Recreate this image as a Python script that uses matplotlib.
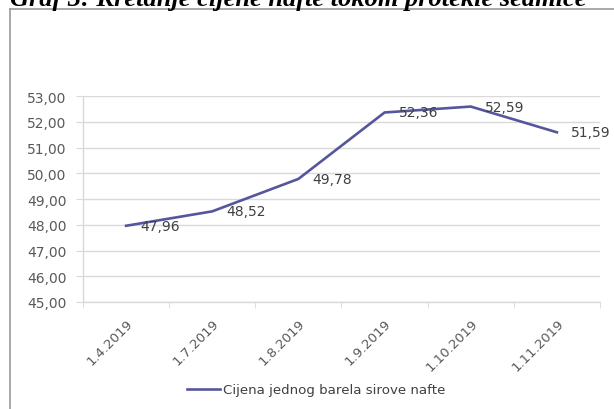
import matplotlib
matplotlib.use("Agg")
import matplotlib.pyplot as plt
from matplotlib.lines import Line2D

categories = ["1.4.2019", "1.7.2019", "1.8.2019", "1.9.2019", "1.10.2019", "1.11.2019"]
values = [47.96, 48.52, 49.78, 52.36, 52.59, 51.59]
value_labels = ["47,96", "48,52", "49,78", "52,36", "52,59", "51,59"]
y_ticks = [45, 46, 47, 48, 49, 50, 51, 52, 53]
y_tick_labels = ["45,00", "46,00", "47,00", "48,00", "49,00", "50,00", "51,00", "52,00", "53,00"]
series_name = "Cijena jednog barela sirove nafte"
title = "Graf 3: Kretanje cijene nafte tokom protekle sedmice"

W, H = 614, 410
fig = plt.figure(figsize=(W / 100, H / 100), dpi=100)
fig.patch.set_facecolor("white")

ax = fig.add_axes([83 / W, 1 - 303 / H, (600 - 83) / W, (303 - 97) / H])
x = list(range(len(categories)))
line_color = "#56569C"
ax.plot(x, values, color=line_color, lw=1.9, solid_joinstyle="miter")

ax.set_xlim(-0.5, len(categories) - 0.5)
ax.set_ylim(45, 53)
ax.set_yticks(y_ticks)
ax.set_yticklabels(y_tick_labels)
ax.grid(axis="y", color="#D9D9D9", lw=1)
ax.set_axisbelow(True)

for s in ["top", "right"]:
    ax.spines[s].set_visible(False)
for s in ["left", "bottom"]:
    ax.spines[s].set_color("#D9D9D9")
    ax.spines[s].set_linewidth(1)

ax.tick_params(axis="y", length=5, color="#D9D9D9", labelsize=10, labelcolor="#595959", pad=7)
ax.set_xticks(x)
ax.set_xticklabels(categories, rotation=45, ha="right", rotation_mode="anchor",
                   fontsize=9.5, color="#595959")
ax.tick_params(axis="x", which="major", length=0, pad=10)
ax.set_xticks([i - 0.5 for i in range(len(categories) + 1)], minor=True)
ax.tick_params(axis="x", which="minor", length=4, color="#D9D9D9")

for xi, v, lab in zip(x, values, value_labels):
    ax.annotate(lab, (xi, v), xytext=(14, 0), textcoords="offset pixels",
                ha="left", va="center", fontsize=10, color="#404040")

handle = Line2D([0], [0], color=line_color, lw=1.9)
fig.legend([handle], [series_name], loc="center",
           bbox_to_anchor=(316 / W, 1 - 391 / H), frameon=False,
           fontsize=9.6, handlelength=2.5, handletextpad=0.2, labelcolor="#404040")

# outer chart frame (left and top edges visible)
fig.add_artist(Line2D([10 / W, 10 / W], [0, 1 - 9.5 / H], transform=fig.transFigure,
                      color="#9A9A9A", lw=1.2))
fig.add_artist(Line2D([10 / W, 1], [1 - 9.5 / H, 1 - 9.5 / H], transform=fig.transFigure,
                      color="#9A9A9A", lw=1.2))

fig.text(10 / W, 1 - 6 / H, title, ha="left", va="baseline",
         family="Liberation Serif", fontsize=19, fontweight="bold", fontstyle="italic",
         color="black")

fig.savefig("out.png", dpi=100)
